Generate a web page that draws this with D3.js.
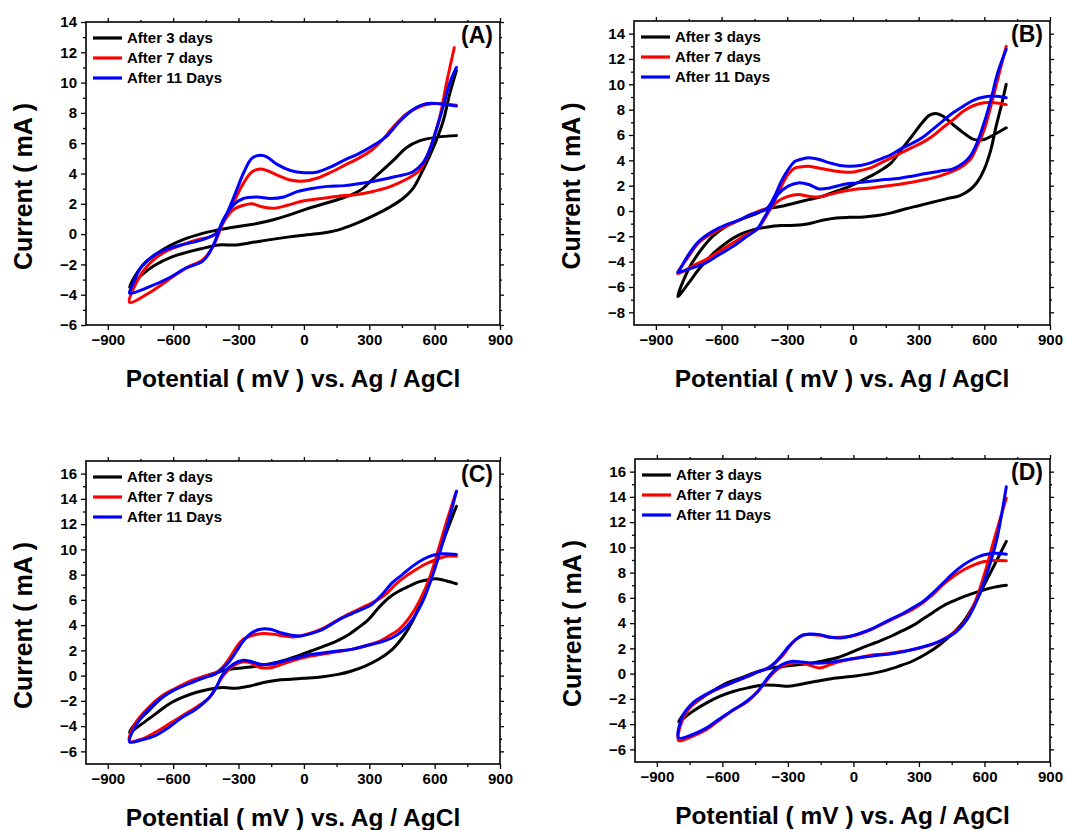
<!DOCTYPE html>
<html><head><meta charset="utf-8">
<script src="https://cdn.jsdelivr.net/npm/d3@7"></script>
<style>
body{margin:0;background:#fff}
svg{display:block}
text{font-family:Arial,"Liberation Sans",sans-serif;font-weight:bold;fill:#000}
</style>
</head><body>
<svg id="chart" width="1065" height="830"></svg>
<script>
// ---------- data ----------
const seriesNames = ["After 3 days", "After 7 days", "After 11 Days"];
const seriesColors = ["#000000", "#ff0000", "#0000ff"];
const panelLabels = ["(A)", "(B)", "(C)", "(D)"];
const xTickValues = [-900, -600, -300, 0, 300, 600, 900];
const xMinorTicks = [-750, -450, -150, 150, 450, 750];
const yTicksA = [-6, -4, -2, 0, 2, 4, 6, 8, 10, 12, 14];
const yTicksB = [-8, -6, -4, -2, 0, 2, 4, 6, 8, 10, 12, 14];
const yTicksCD = [-6, -4, -2, 0, 2, 4, 6, 8, 10, 12, 14, 16];
const xTitle = "Potential ( mV ) vs. Ag / AgCl";
const yTitle = "Current ( mA )";

// Each curve: [potential mV, current mA], upper branch from +700 to -800, then lower branch back to +700
const A_3days = [[700,6.5],[610,6.4],[530,6.15],[470,5.7],[420,5.0],[360,4.2],[310,3.55],[270,3.0],[220,2.6],[160,2.3],[80,1.95],[0,1.6],[-80,1.2],[-140,0.95],[-215,0.7],[-310,0.48],[-400,0.25],[-465,0.05],[-560,-0.4],[-650,-1.05],[-745,-2.15],[-800,-3.5],
  [-745,-2.7],[-690,-2.1],[-605,-1.5],[-465,-0.94],[-390,-0.72],[-310,-0.72],[-215,-0.5],[-75,-0.2],[0,-0.07],[80,0.05],[155,0.26],[235,0.67],[310,1.15],[390,1.75],[450,2.3],[500,3.0],[545,4.2],[575,5.1],[608,6.2],[640,7.5],[670,9.3],[700,10.8]];
const A_7days = [[700,8.5],[630,8.6],[585,8.6],[530,8.4],[468,7.9],[406,7.0],[359,6.2],[312,5.55],[250,5.0],[188,4.55],[126,4.1],[63,3.7],[0,3.5],[-62,3.57],[-123,3.9],[-170,4.2],[-200,4.3],[-239,4.1],[-278,3.35],[-309,2.5],[-340,1.6],[-372,0.7],[-403,0.04],[-434,-0.2],[-496,-0.4],[-558,-0.7],[-620,-1.05],[-682,-1.6],[-745,-2.6],[-800,-4.5],
  [-713,-3.9],[-620,-3.0],[-542,-2.25],[-465,-1.7],[-434,-1.2],[-403,-0.4],[-372,0.7],[-325,1.6],[-278,1.9],[-239,2.0],[-192,1.8],[-138,1.7],[-76,1.9],[0,2.2],[79,2.35],[157,2.5],[235,2.6],[312,2.8],[390,3.1],[468,3.6],[530,4.2],[561,5.0],[592,6.2],[624,7.75],[655,10.0],[690,12.3]];
const A_11days = [[700,8.45],[624,8.6],[561,8.6],[499,8.2],[437,7.4],[375,6.4],[312,5.8],[250,5.3],[188,4.9],[126,4.45],[63,4.1],[0,4.05],[-62,4.2],[-123,4.6],[-170,5.1],[-200,5.2],[-239,5.0],[-278,4.0],[-309,2.9],[-340,1.8],[-372,0.8],[-403,0.04],[-434,-0.2],[-496,-0.5],[-558,-0.7],[-620,-0.95],[-682,-1.35],[-745,-2.15],[-791,-3.5],[-800,-3.9],
  [-713,-3.5],[-620,-2.9],[-542,-2.25],[-465,-1.8],[-434,-1.25],[-403,-0.3],[-372,0.9],[-325,1.9],[-278,2.35],[-216,2.45],[-154,2.35],[-92,2.45],[-31,2.8],[31,3.0],[109,3.15],[188,3.2],[266,3.35],[343,3.55],[421,3.8],[499,4.1],[546,4.7],[577,5.55],[608,6.9],[639,8.4],[670,10.0],[700,11.0]];

const B_3days = [[700,6.57],[646,6.04],[599,5.65],[552,5.65],[505,6.17],[457,6.83],[410,7.5],[379,7.7],[348,7.55],[316,6.96],[269,5.9],[222,4.86],[175,3.8],[128,3.22],[81,2.75],[34,2.35],[-13,1.96],[-76,1.56],[-139,1.16],[-202,0.9],[-264,0.63],[-327,0.37],[-390,0.16],[-453,-0.29],[-515,-0.69],[-578,-1.2],[-641,-2.0],[-704,-3.3],[-751,-4.6],[-800,-6.75],
  [-751,-5.7],[-704,-4.6],[-641,-3.4],[-578,-2.5],[-515,-1.85],[-453,-1.47],[-390,-1.26],[-327,-1.15],[-264,-1.13],[-202,-1.0],[-139,-0.73],[-76,-0.55],[-13,-0.5],[50,-0.47],[112,-0.36],[175,-0.15],[238,0.16],[300,0.42],[363,0.69],[426,0.96],[489,1.22],[536,1.7],[567,2.27],[599,3.27],[630,4.85],[654,6.7],[677,8.28],[700,10.0]];
const B_7days = [[700,8.4],[646,8.55],[599,8.55],[552,8.33],[505,7.9],[457,7.2],[410,6.57],[363,5.9],[316,5.4],[269,5.0],[222,4.6],[175,4.2],[128,3.8],[81,3.4],[34,3.2],[-13,3.06],[-76,3.14],[-139,3.33],[-202,3.54],[-233,3.49],[-264,3.4],[-296,2.9],[-327,1.96],[-358,0.9],[-390,0.24],[-421,0.05],[-468,-0.29],[-515,-0.69],[-578,-1.2],[-641,-1.73],[-704,-2.5],[-751,-3.6],[-800,-4.95],
  [-735,-4.37],[-672,-3.84],[-610,-3.18],[-547,-2.5],[-484,-1.85],[-437,-1.45],[-406,-0.69],[-374,0.24],[-343,0.77],[-296,1.16],[-249,1.3],[-202,1.16],[-154,1.11],[-107,1.3],[-44,1.56],[18,1.74],[81,1.82],[144,1.96],[206,2.1],[269,2.27],[332,2.48],[395,2.75],[457,3.14],[505,3.6],[536,4.07],[567,5.1],[599,6.4],[630,8.3],[661,10.4],[700,13.0]];
const B_11days = [[700,8.94],[646,9.07],[599,9.0],[552,8.76],[505,8.28],[457,7.75],[410,7.1],[363,6.43],[316,5.78],[269,5.33],[222,4.94],[175,4.46],[128,4.12],[81,3.8],[34,3.6],[-13,3.54],[-60,3.6],[-107,3.8],[-154,4.07],[-202,4.2],[-233,4.1],[-264,3.93],[-296,3.27],[-327,2.35],[-358,1.16],[-390,0.24],[-421,-0.03],[-468,-0.29],[-515,-0.69],[-578,-1.07],[-641,-1.6],[-704,-2.4],[-751,-3.44],[-791,-4.63],[-800,-4.84],
  [-735,-4.5],[-672,-4.1],[-610,-3.44],[-547,-2.78],[-484,-1.99],[-437,-1.42],[-406,-0.55],[-374,0.37],[-343,1.3],[-296,1.96],[-249,2.22],[-202,2.09],[-154,1.74],[-107,1.82],[-44,2.09],[18,2.22],[81,2.35],[144,2.48],[206,2.56],[269,2.75],[332,2.96],[395,3.14],[457,3.33],[505,3.8],[536,4.33],[567,5.38],[599,6.96],[630,8.8],[661,10.9],[700,12.76]];

const C_3days = [[700,7.28],[655,7.5],[608,7.67],[577,7.62],[530,7.44],[484,7.1],[437,6.7],[390,6.17],[343,5.38],[297,4.46],[250,3.8],[203,3.22],[157,2.8],[95,2.35],[32,1.95],[-31,1.55],[-92,1.21],[-154,0.95],[-216,0.76],[-278,0.63],[-340,0.5],[-403,0.24],[-465,-0.1],[-527,-0.55],[-589,-1.08],[-651,-1.73],[-713,-2.79],[-776,-3.84],[-800,-4.5],
  [-745,-3.84],[-682,-3.05],[-620,-2.26],[-558,-1.73],[-496,-1.34],[-434,-1.08],[-372,-0.95],[-309,-1.0],[-247,-0.82],[-185,-0.55],[-123,-0.37],[-62,-0.29],[0,-0.21],[79,-0.1],[157,0.1],[219,0.37],[281,0.76],[343,1.29],[406,2.08],[452,3.0],[499,4.33],[546,6.17],[592,8.28],[639,10.65],[700,13.42]];
const C_7days = [[700,9.46],[655,9.46],[608,9.2],[561,8.86],[515,8.41],[468,7.88],[421,7.23],[375,6.43],[328,5.9],[281,5.5],[235,5.12],[188,4.72],[141,4.27],[95,3.8],[48,3.46],[0,3.22],[-47,3.06],[-92,3.14],[-138,3.27],[-185,3.33],[-231,3.22],[-278,2.88],[-309,2.27],[-340,1.42],[-372,0.69],[-403,0.24],[-465,-0.1],[-527,-0.47],[-589,-1.0],[-651,-1.6],[-713,-2.53],[-776,-3.84],[-800,-5.2],
  [-745,-5.03],[-682,-4.5],[-620,-3.84],[-558,-3.18],[-496,-2.53],[-434,-1.73],[-403,-0.95],[-372,-0.03],[-325,0.76],[-278,1.1],[-247,1.03],[-200,0.63],[-154,0.63],[-92,0.95],[-31,1.29],[31,1.55],[95,1.73],[157,1.9],[219,2.08],[281,2.35],[343,2.69],[390,3.14],[437,3.67],[484,4.59],[530,5.9],[577,7.75],[624,10.4],[655,12.2],[700,14.6]];
const C_11days = [[700,9.6],[639,9.65],[592,9.54],[546,9.2],[499,8.67],[452,8.0],[406,7.36],[359,6.43],[312,5.64],[266,5.25],[219,4.9],[172,4.53],[126,4.06],[79,3.6],[32,3.33],[-16,3.14],[-62,3.22],[-107,3.4],[-154,3.67],[-200,3.67],[-239,3.4],[-278,2.74],[-309,1.95],[-340,1.16],[-372,0.58],[-403,0.16],[-465,-0.21],[-527,-0.63],[-589,-1.08],[-651,-1.73],[-713,-2.66],[-776,-4.1],[-800,-5.26],
  [-745,-5.1],[-682,-4.76],[-620,-4.1],[-558,-3.3],[-496,-2.66],[-434,-1.73],[-403,-0.95],[-372,0.1],[-325,0.9],[-278,1.21],[-239,1.1],[-200,0.9],[-154,0.9],[-92,1.16],[-31,1.42],[31,1.68],[95,1.82],[157,1.95],[219,2.08],[281,2.35],[343,2.61],[406,3.0],[452,3.54],[499,4.46],[546,5.9],[592,8.0],[639,10.65],[700,14.6]];

const D_3days = [[700,7.0],[646,6.85],[599,6.64],[552,6.38],[505,6.1],[457,5.75],[410,5.36],[363,4.83],[316,4.3],[269,3.78],[222,3.38],[175,2.98],[128,2.64],[81,2.32],[34,2.0],[-13,1.66],[-76,1.26],[-139,1.0],[-202,0.81],[-264,0.68],[-327,0.55],[-390,0.39],[-453,0.08],[-515,-0.34],[-578,-0.74],[-641,-1.34],[-704,-2.05],[-751,-2.71],[-800,-3.8],
  [-735,-2.98],[-672,-2.32],[-610,-1.79],[-547,-1.4],[-484,-1.13],[-421,-0.92],[-358,-0.92],[-296,-1.0],[-233,-0.82],[-170,-0.61],[-107,-0.42],[-44,-0.29],[18,-0.16],[81,0],[144,0.24],[206,0.58],[269,0.98],[332,1.55],[395,2.29],[457,3.22],[505,4.14],[552,5.46],[599,7.04],[646,8.62],[700,10.47]];
const D_7days = [[700,8.94],[646,8.96],[599,8.88],[552,8.62],[505,8.23],[457,7.7],[410,7.04],[363,6.25],[316,5.59],[269,5.07],[222,4.67],[175,4.27],[128,3.88],[81,3.48],[34,3.17],[-13,2.96],[-60,2.88],[-107,2.88],[-154,3.04],[-202,3.09],[-233,3.04],[-264,2.69],[-296,2.08],[-327,1.37],[-358,0.84],[-390,0.45],[-437,0.13],[-484,-0.21],[-547,-0.66],[-610,-1.13],[-672,-1.66],[-735,-2.45],[-782,-3.64],[-800,-5.3],
  [-735,-4.94],[-672,-4.42],[-610,-3.63],[-547,-2.85],[-484,-2.19],[-437,-1.4],[-406,-0.74],[-374,-0.08],[-327,0.58],[-280,0.84],[-233,0.84],[-194,0.63],[-154,0.45],[-107,0.71],[-44,1.03],[18,1.24],[81,1.45],[144,1.55],[206,1.71],[269,1.9],[332,2.16],[395,2.56],[457,3.22],[505,4.0],[552,5.46],[599,7.83],[646,10.73],[700,13.9]];
const D_11days = [[700,9.46],[646,9.54],[599,9.41],[552,9.1],[505,8.62],[457,7.96],[410,7.17],[363,6.38],[316,5.67],[269,5.2],[222,4.72],[175,4.33],[128,3.93],[81,3.53],[34,3.22],[-13,2.96],[-60,2.82],[-107,2.88],[-154,3.09],[-202,3.14],[-233,3.04],[-264,2.69],[-296,2.16],[-327,1.5],[-358,0.9],[-390,0.45],[-437,0.13],[-484,-0.21],[-547,-0.66],[-610,-1.08],[-672,-1.61],[-735,-2.32],[-782,-3.37],[-800,-5.08],
  [-735,-4.82],[-672,-4.3],[-610,-3.55],[-547,-2.85],[-484,-2.13],[-437,-1.4],[-406,-0.66],[-374,0.05],[-327,0.71],[-280,0.98],[-233,0.92],[-186,0.84],[-139,0.84],[-76,0.98],[-13,1.16],[50,1.32],[112,1.45],[175,1.58],[238,1.77],[300,2.03],[363,2.35],[426,2.82],[473,3.35],[520,4.27],[567,5.85],[614,8.09],[654,10.46],[700,14.8]];

// ---------- layout ----------
const panels = [
  {label: panelLabels[0], left: 86,  top: 22,  right: 500,  bottom: 325, yDomain: [-6, 14], yTicks: yTicksA,  curves: [A_3days, A_7days, A_11days]},
  {label: panelLabels[1], left: 634, top: 21,  right: 1050, bottom: 325, yDomain: [-9, 15], yTicks: yTicksB,  curves: [B_3days, B_7days, B_11days]},
  {label: panelLabels[2], left: 86,  top: 461, right: 500,  bottom: 764, yDomain: [-7, 17], yTicks: yTicksCD, curves: [C_3days, C_7days, C_11days]},
  {label: panelLabels[3], left: 635, top: 459, right: 1050, bottom: 762, yDomain: [-7, 17], yTicks: yTicksCD, curves: [D_3days, D_7days, D_11days]}
];

const svg = d3.select("#chart");

panels.forEach(p => {
  const x = d3.scaleLinear().domain([-1000, 900]).range([p.left, p.right]);
  const y = d3.scaleLinear().domain(p.yDomain).range([p.bottom, p.top]);
  const g = svg.append("g");

  const yMinor = d3.range(p.yDomain[0], p.yDomain[1] + 0.001, 1).filter(v => !p.yTicks.includes(v) && v > p.yDomain[0] && v < p.yDomain[1]);

  // bottom axis
  const bx = g.append("g").attr("transform", `translate(0,${p.bottom})`)
    .call(d3.axisBottom(x).tickValues(xTickValues).tickSize(5).tickSizeOuter(0).tickPadding(4));
  bx.selectAll("text").style("font-size", "15px").style("font-weight", "bold");
  g.append("g").attr("transform", `translate(0,${p.bottom})`)
    .call(d3.axisBottom(x).tickValues(xMinorTicks).tickSize(3).tickSizeOuter(0).tickFormat(""));
  // left axis
  const ly = g.append("g").attr("transform", `translate(${p.left},0)`)
    .call(d3.axisLeft(y).tickValues(p.yTicks).tickSize(5).tickSizeOuter(0).tickPadding(4));
  ly.selectAll("text").style("font-size", "15px").style("font-weight", "bold");
  g.append("g").attr("transform", `translate(${p.left},0)`)
    .call(d3.axisLeft(y).tickValues(yMinor).tickSize(3).tickSizeOuter(0).tickFormat(""));
  // top & right mirror ticks
  g.append("g").attr("transform", `translate(0,${p.top})`)
    .call(d3.axisTop(x).tickValues(xTickValues).tickSize(4).tickSizeOuter(0).tickFormat(""));
  g.append("g").attr("transform", `translate(0,${p.top})`)
    .call(d3.axisTop(x).tickValues(xMinorTicks).tickSize(2).tickSizeOuter(0).tickFormat(""));
  g.append("g").attr("transform", `translate(${p.right},0)`)
    .call(d3.axisRight(y).tickValues(p.yTicks).tickSize(4).tickSizeOuter(0).tickFormat(""));
  g.append("g").attr("transform", `translate(${p.right},0)`)
    .call(d3.axisRight(y).tickValues(yMinor).tickSize(2).tickSizeOuter(0).tickFormat(""));
  g.selectAll(".domain").remove();
  g.selectAll(".tick line").attr("stroke", "#000").attr("stroke-width", 1.3);

  // frame
  g.append("rect").attr("x", p.left).attr("y", p.top)
    .attr("width", p.right - p.left).attr("height", p.bottom - p.top)
    .attr("fill", "none").attr("stroke", "#000").attr("stroke-width", 1.6);

  // curves
  const line = d3.line().x(d => x(d[0])).y(d => y(d[1])).curve(d3.curveCatmullRom.alpha(0.5));
  p.curves.forEach((c, i) => {
    g.append("path").datum(c).attr("d", line)
      .attr("fill", "none").attr("stroke", seriesColors[i]).attr("stroke-width", 3)
      .attr("stroke-linejoin", "round").attr("stroke-linecap", "round");
  });

  // legend
  seriesNames.forEach((name, i) => {
    const ly2 = p.top + 16 + i * 20;
    g.append("line").attr("x1", p.left + 7).attr("x2", p.left + 36).attr("y1", ly2).attr("y2", ly2)
      .attr("stroke", seriesColors[i]).attr("stroke-width", 3.2);
    g.append("text").attr("x", p.left + 41).attr("y", ly2 + 5).style("font-size", "15px").text(name);
  });

  // panel label
  g.append("text").attr("x", p.right - 7).attr("y", p.top + 21).attr("text-anchor", "end")
    .style("font-size", "23px").text(p.label);

  // axis titles
  g.append("text").attr("x", (p.left + p.right) / 2).attr("y", p.bottom + 62)
    .attr("text-anchor", "middle").style("font-size", "24.5px").text(xTitle);
  g.append("text").attr("transform", `translate(${p.left - 54},${(p.top + p.bottom) / 2 + 13}) rotate(-90)`)
    .attr("text-anchor", "middle").style("font-size", "25px").text(yTitle);
});
</script>
</body></html>
